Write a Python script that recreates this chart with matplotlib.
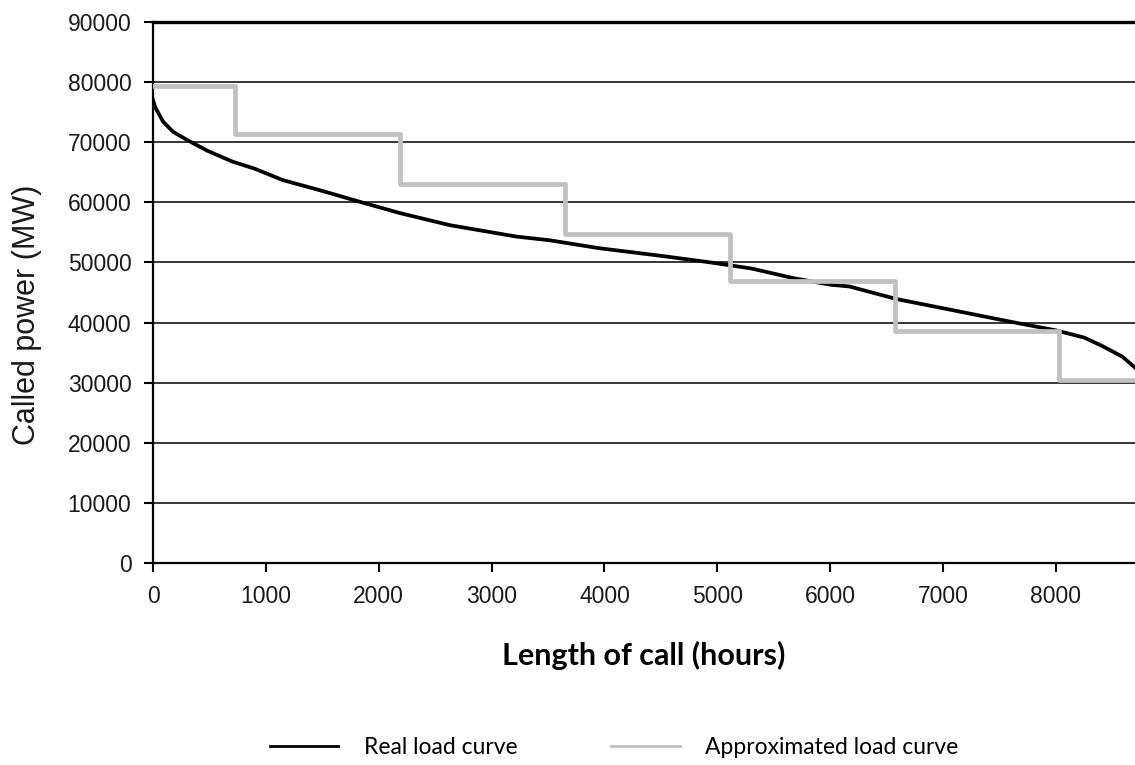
import matplotlib
matplotlib.use("Agg")
import matplotlib.pyplot as plt

# real load curve (hours, MW)
real_hours = [0, 20, 90, 180, 300, 480, 700, 900, 1150, 1500, 1830, 2190, 2630,
              3220, 3510, 3960, 4500, 4940, 5300, 5670, 6000, 6170, 6590, 7100,
              7580, 8000, 8250, 8410, 8590, 8700, 8760]
real_mw = [77000, 75800, 73400, 71700, 70400, 68600, 66800, 65600, 63700, 61900,
           60100, 58200, 56200, 54300, 53700, 52350, 51100, 50000, 49000, 47400,
           46300, 46000, 43900, 42000, 40200, 38700, 37500, 36100, 34300, 32500, 31500]

# approximated load curve: step levels and where each step starts
step_starts = [0, 730, 2190, 3650, 5110, 6570, 8030, 8760]
step_levels = [79400, 71400, 63100, 54800, 46900, 38600, 30400, 30400]

y_ticks = [0, 10000, 20000, 30000, 40000, 50000, 60000, 70000, 80000, 90000]
x_ticks = [0, 1000, 2000, 3000, 4000, 5000, 6000, 7000, 8000]

fig = plt.figure(figsize=(11.35, 7.65), dpi=100)
ax = fig.add_axes([153 / 1135, 1 - 563 / 765, 1 - 153 / 1135, (563 - 22) / 765])

# horizontal gridlines
for v in y_ticks[1:-1]:
    ax.axhline(v, color="black", lw=1.1, zorder=1)
ax.axhline(90000, color="black", lw=2.4, zorder=1, clip_on=False)

ax.plot(real_hours, real_mw, color="black", lw=2.7, zorder=2, label="Real load curve")
ax.step(step_starts, step_levels, where="post", color="#c0c0c0", lw=3.4,
        zorder=3, label="Approximated load curve")

ax.set_xlim(0, 8700)
ax.set_ylim(0, 90000)
ax.set_xticks(x_ticks)
ax.set_yticks(y_ticks)
ax.tick_params(axis="both", direction="out", length=6.5, width=1.5, color="black",
               labelsize=16.5, pad=9)
for lab in ax.get_xticklabels() + ax.get_yticklabels():
    lab.set_family("Liberation Sans")
    lab.set_color("#1a1a1a")

for side in ["top", "right"]:
    ax.spines[side].set_visible(False)
for side in ["left", "bottom"]:
    ax.spines[side].set_linewidth(1.6)

ax.set_ylabel("Called power (MW)", family="Liberation Sans", fontsize=22,
              va="center", color="#1a1a1a")
ax.yaxis.set_label_coords(-0.128, 0.458)
ax.set_xlabel("Length of call (hours)", family="Lato", fontweight="bold",
              fontsize=22, va="center")
ax.xaxis.set_label_coords(0.4995, -0.170)

handles, labels = ax.get_legend_handles_labels()
leg = fig.legend(handles, labels, loc="center", bbox_to_anchor=(0.541, 1 - 748 / 765),
                 ncol=2, frameon=False, handlelength=3.0, handletextpad=1.1,
                 columnspacing=4.1, prop={"family": "Lato", "size": 16.5})
for h in leg.legend_handles:
    h.set_linewidth(2.0)

fig.savefig("out.png", dpi=100)
